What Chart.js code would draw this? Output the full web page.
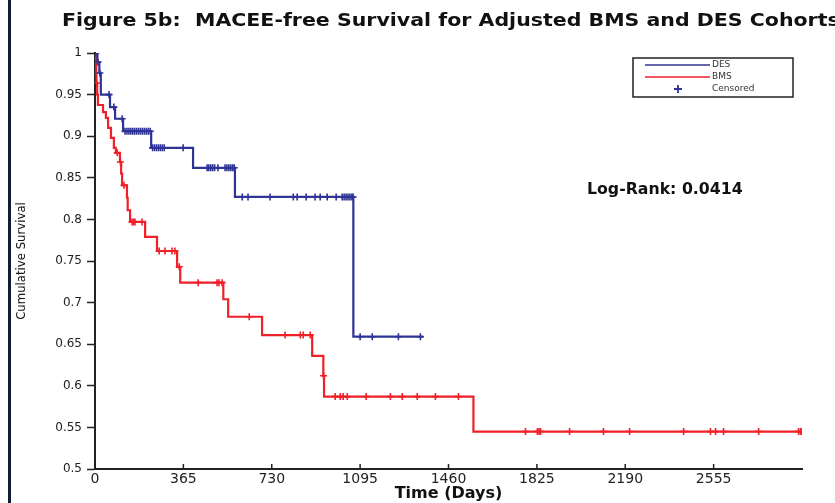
<!DOCTYPE html>
<html>
<head>
<meta charset="utf-8">
<script src="https://cdn.jsdelivr.net/npm/chart.js@4.4.0/dist/chart.umd.min.js"></script>
<style>
  html, body { margin: 0; padding: 0; background: #fff; }
  #wrap { position: relative; width: 835px; height: 503px; overflow: hidden; }
  #edge { position: absolute; left: 8px; top: 0; width: 3px; height: 503px; background: #101c33; }
</style>
</head>
<body>
<div id="wrap">
  <canvas id="kmChart" width="835" height="503"></canvas>
  <div id="edge"></div>
</div>
<script>
// DES cohort: step points (day of event, survival after it), last point = end of follow-up
const desDays = [0, 10, 18, 24, 62, 83, 116, 232, 405, 578, 1067, 1356];
const desSurv = [1, 0.989, 0.976, 0.95, 0.935, 0.921, 0.906, 0.886, 0.862, 0.827, 0.659, 0.659];
const desCensored = [4, 12, 20, 58, 78, 112, 124, 132, 140, 148, 156, 164, 172, 180, 188, 196, 204, 212, 220, 228,
  238, 246, 254, 262, 270, 278, 286, 364, 463, 470, 478, 486, 494, 508, 537, 545, 553, 561, 569, 575,
  608, 632, 723, 819, 835, 872, 909, 930, 959, 996, 1021, 1029, 1037, 1045, 1053, 1061, 1066,
  1095, 1145, 1253, 1344];

// BMS cohort
const bmsDays = [0, 3, 5, 6, 9, 12, 33, 45, 54, 66, 78, 86, 103, 108, 112, 132, 135, 145, 207, 256,
  339, 352, 530, 550, 690, 897, 943, 946, 1563, 2922];
const bmsSurv = [1, 0.988, 0.976, 0.964, 0.95, 0.9375, 0.929, 0.922, 0.91, 0.898, 0.886, 0.88, 0.869, 0.855, 0.841, 0.826, 0.811, 0.797, 0.779, 0.762,
  0.743, 0.724, 0.704, 0.683, 0.661, 0.636, 0.612, 0.587, 0.545, 0.545];
const bmsCensored = [7, 92, 105, 120, 153, 160, 165, 194, 265, 289, 318, 330, 348, 426, 504, 512, 525, 637,
  785, 848, 860, 889, 944, 992, 1013, 1025, 1042, 1120, 1220, 1269, 1331, 1406, 1501,
  1778, 1827, 1834, 1840, 1960, 2100, 2208, 2431, 2542, 2563, 2596, 2741, 2906, 2914, 2920];

const xTickStep = 365;
const xMax = 2920;

const blue = 'rgb(46, 52, 150)';
const red = 'rgb(240, 32, 40)';

function curve(days, surv) {
  return days.map((d, i) => ({ x: d, y: surv[i] }));
}
// put each censor mark on the curve level at that day
function censorMarks(cDays, days, surv) {
  return cDays.map(c => {
    let lvl = surv[0];
    for (let i = 0; i < days.length; i++) {
      if (days[i] <= c) lvl = surv[i];
    }
    return { x: c, y: lvl };
  });
}

// the scanned figure is a bit stretched sideways, so some texts are widened
function wideText(ctx, text, x, y, sx) {
  ctx.save();
  ctx.translate(x, y);
  ctx.scale(sx, 1);
  ctx.fillText(text, 0, 0);
  ctx.restore();
}

// title, log-rank text, legend box and inside x ticks
const extrasPlugin = {
  id: 'extras',
  afterDraw(chart) {
    const ctx = chart.ctx;
    ctx.save();
    ctx.fillStyle = '#111';
    ctx.textBaseline = 'alphabetic';
    ctx.font = 'bold 18px "DejaVu Sans", sans-serif';
    wideText(ctx, 'Figure 5b:  MACEE-free Survival for Adjusted BMS and DES Cohorts', 62, 26, 1.14);

    ctx.font = 'bold 15px "DejaVu Sans", sans-serif';
    wideText(ctx, 'Log-Rank: 0.0414', 587, 194, 1.05);

    // x ticks pointing into the plot
    const xs = chart.scales.x;
    ctx.strokeStyle = '#222';
    ctx.lineWidth = 1.5;
    xs.ticks.forEach(t => {
      const px = xs.getPixelForValue(t.value);
      ctx.beginPath();
      ctx.moveTo(px, xs.top);
      ctx.lineTo(px, xs.top - 5);
      ctx.stroke();
    });

    // legend
    ctx.fillStyle = '#fff';
    ctx.fillRect(633, 58, 160, 39);
    ctx.strokeStyle = '#222';
    ctx.lineWidth = 1.5;
    ctx.strokeRect(633, 58, 160, 39);
    ctx.font = '9px "DejaVu Sans", sans-serif';
    ctx.textBaseline = 'middle';
    const rows = [
      { label: 'DES', color: blue, y: 65 },
      { label: 'BMS', color: red, y: 77 },
    ];
    rows.forEach(r => {
      ctx.strokeStyle = r.color;
      ctx.lineWidth = 1.5;
      ctx.beginPath();
      ctx.moveTo(645, r.y);
      ctx.lineTo(710, r.y);
      ctx.stroke();
      ctx.fillStyle = '#333';
      ctx.fillText(r.label, 712, r.y);
    });
    ctx.strokeStyle = blue;
    ctx.lineWidth = 1.8;
    ctx.beginPath();
    ctx.moveTo(674, 89); ctx.lineTo(682, 89);
    ctx.moveTo(678, 85); ctx.lineTo(678, 93);
    ctx.stroke();
    ctx.fillStyle = '#333';
    ctx.fillText('Censored', 712, 89);
    ctx.restore();
  }
};

var canvas = document.getElementById('kmChart');
var ctx = canvas.getContext('2d');
const kmChart = new Chart(ctx, {
  type: 'line',
  data: {
    datasets: [
      {
        label: 'DES',
        data: curve(desDays, desSurv),
        borderColor: blue,
        borderWidth: 2.2,
        stepped: true,
        pointRadius: 0,
        fill: false,
        order: 1
      },
      {
        label: 'BMS',
        data: curve(bmsDays, bmsSurv),
        borderColor: red,
        borderWidth: 2.2,
        stepped: true,
        pointRadius: 0,
        fill: false,
        order: 2
      },
      {
        label: 'Censored',
        data: censorMarks(desCensored, desDays, desSurv),
        showLine: false,
        pointStyle: 'cross',
        pointRadius: 3.5,
        pointBorderWidth: 1.6,
        borderColor: blue,
        order: 0
      },
      {
        label: 'Censored BMS',
        data: censorMarks(bmsCensored, bmsDays, bmsSurv),
        showLine: false,
        pointStyle: 'cross',
        pointRadius: 3.5,
        pointBorderWidth: 1.6,
        borderColor: red,
        order: 0
      }
    ]
  },
  options: {
    responsive: false,
    animation: false,
    layout: {
      padding: { left: 14, right: 33, top: 53, bottom: 0 }
    },
    plugins: {
      legend: { display: false },
      tooltip: { enabled: false }
    },
    scales: {
      x: {
        type: 'linear',
        min: 0,
        max: xMax,
        afterBuildTicks: s => { s.ticks = s.ticks.filter(t => t.value % xTickStep === 0 && t.value < xMax); },
        afterFit: s => { s.height = 34; },
        ticks: {
          stepSize: xTickStep,
          padding: 2,
          maxRotation: 0,
          color: '#222',
          font: { family: '"DejaVu Sans", sans-serif', size: 14 },
          callback: v => String(v)
        },
        grid: { drawOnChartArea: false, drawTicks: false },
        border: { color: '#222', width: 2 },
        title: {
          display: true,
          text: 'Time (Days)',
          color: '#111',
          padding: 0,
          font: { family: '"DejaVu Sans", sans-serif', size: 16, weight: 'bold' }
        }
      },
      y: {
        min: 0.5,
        max: 1,
        afterFit: s => { s.width = 81; },
        ticks: {
          stepSize: 0.05,
          padding: 5,
          color: '#222',
          font: { family: '"DejaVu Sans", sans-serif', size: 12 },
          callback: v => String(Math.round(v * 100) / 100)
        },
        grid: { drawOnChartArea: false, drawTicks: true, tickLength: 8, color: '#222', tickWidth: 1.5 },
        border: { color: '#222', width: 2 },
        title: {
          display: true,
          text: 'Cumulative Survival',
          color: '#111',
          padding: 0,
          font: { family: '"DejaVu Sans Condensed", "Liberation Sans Narrow", sans-serif', size: 13 }
        }
      }
    }
  },
  plugins: [extrasPlugin]
});
</script>
</body>
</html>
